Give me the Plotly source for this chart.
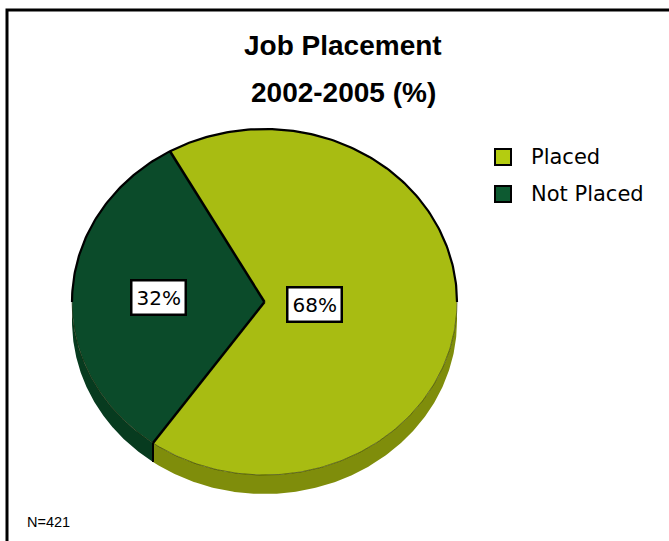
import numpy as np
import plotly.graph_objects as go

# Chart data
labels = ["Placed", "Not Placed"]
values = [68, 32]
sample_size = 421
title_lines = ["Job Placement", "2002-2005 (%)"]

# Styling
top_colors = ["#a8bc12", "#0b4b2a"]
side_colors = ["#7f8d0b", "#073b1f"]
swatch_colors = ["#b4cc10", "#0d5a31"]

W, H = 669, 541
cx, cy = 264.5, 302.0     # centre of the pie's top face (px)
rx, ry = 192.5, 173.0     # semi-axes of the tilted pie
depth = 19                # visible thickness of the pie
start_deg = 119.4         # where the first slice begins (counter-clockwise from 3 o'clock)
label_frac = [0.26, 0.55] # radial position of each percentage label


def arc(a_from, a_to, dy=0.0, n=200):
    t = np.radians(np.linspace(a_from, a_to, n))
    return cx + rx * np.cos(t), cy - ry * np.sin(t) + dy


def point(a, dy=0.0):
    t = np.radians(a)
    return cx + rx * np.cos(t), cy - ry * np.sin(t) + dy


total = sum(values)
sweeps = [360.0 * v / total for v in values]
bounds = []
a = start_deg
for s in sweeps:
    bounds.append((a, a - s))   # slices run clockwise
    a -= s

fig = go.Figure()

# Side walls (only the front half of the rim is visible)
for (a0, a1), col in zip(bounds, side_colors):
    lo, hi = min(a0, a1), max(a0, a1)
    for k in (-1, 0, 1):
        s_lo, s_hi = max(lo, -180 + 360 * k), min(hi, 360 * k)
        if s_hi > s_lo:
            x1, y1 = arc(s_lo, s_hi)
            x2, y2 = arc(s_hi, s_lo, dy=depth)
            fig.add_trace(go.Scatter(
                x=np.concatenate([x1, x2]), y=np.concatenate([y1, y2]),
                mode="lines", fill="toself", fillcolor=col,
                line=dict(width=0, color=col), hoverinfo="skip", showlegend=False))

# Top faces
for (a0, a1), col, lab, v in zip(bounds, top_colors, labels, values):
    xs, ys = arc(a0, a1)
    fig.add_trace(go.Scatter(
        x=np.concatenate([[cx], xs, [cx]]), y=np.concatenate([[cy], ys, [cy]]),
        mode="lines", fill="toself", fillcolor=col,
        line=dict(width=0, color=col), name=lab,
        hovertemplate=f"{lab}: {v}%<extra></extra>", showlegend=False))

# Rim outlines
xu, yu = arc(0, 180)
fig.add_trace(go.Scatter(x=xu, y=yu, mode="lines", line=dict(color="black", width=2.2),
                         hoverinfo="skip", showlegend=False))
xl, yl = arc(180, 360)
fig.add_trace(go.Scatter(x=xl, y=yl, mode="lines", line=dict(color="rgba(30,35,0,0.55)", width=1),
                         hoverinfo="skip", showlegend=False))

# Slice dividers and the edge they make on the front wall
for a0, _ in bounds:
    px, py = point(a0)
    fig.add_trace(go.Scatter(x=[cx, px], y=[cy, py], mode="lines",
                             line=dict(color="black", width=2.5),
                             hoverinfo="skip", showlegend=False))
    if np.sin(np.radians(a0)) < 0:
        fig.add_trace(go.Scatter(x=[px, px], y=[py, py + depth], mode="lines",
                                 line=dict(color="black", width=2),
                                 hoverinfo="skip", showlegend=False))

annotations = []
# Percentage labels
for (a0, a1), v, f in zip(bounds, values, label_frac):
    mid = (a0 + a1) / 2
    t = np.radians(mid)
    annotations.append(dict(
        x=cx + f * rx * np.cos(t), y=cy - f * ry * np.sin(t),
        xref="x", yref="y", text=f"{v}%", showarrow=False,
        font=dict(family="DejaVu Sans", size=20, color="black"),
        bgcolor="white", bordercolor="black", borderwidth=2.5, borderpad=4))

# Title
for i, line in enumerate(title_lines):
    annotations.append(dict(
        x=343, y=45 + 47 * i, xref="x", yref="y", text=f"<b>{line}</b>",
        showarrow=False, font=dict(family="Liberation Sans", size=28, color="black")))

# Legend
shapes = []
for i, (lab, col) in enumerate(zip(labels, swatch_colors)):
    yc = 157 + 37 * i
    shapes.append(dict(type="rect", xref="x", yref="y", x0=495, x1=511, y0=yc - 8, y1=yc + 8,
                       fillcolor=col, line=dict(color="black", width=2)))
    annotations.append(dict(x=529, y=yc, xref="x", yref="y", text=lab, showarrow=False,
                            xanchor="left", font=dict(family="DejaVu Sans", size=21, color="black")))

# Sample size note
annotations.append(dict(x=25, y=522, xref="x", yref="y", text=f"N={sample_size}", showarrow=False,
                        xanchor="left", font=dict(family="Liberation Sans", size=14.5, color="black")))

# Frame
shapes.append(dict(type="path", xref="x", yref="y", path=f"M 7 {H} L 7 10 L {W} 10",
                   line=dict(color="black", width=3)))

fig.update_layout(
    width=W, height=H, autosize=False,
    margin=dict(l=0, r=0, t=0, b=0),
    paper_bgcolor="white", plot_bgcolor="white",
    xaxis=dict(range=[0, W], visible=False, fixedrange=True),
    yaxis=dict(range=[H, 0], visible=False, fixedrange=True),
    annotations=annotations, shapes=shapes, showlegend=False,
)

fig.write_html("out.html")
